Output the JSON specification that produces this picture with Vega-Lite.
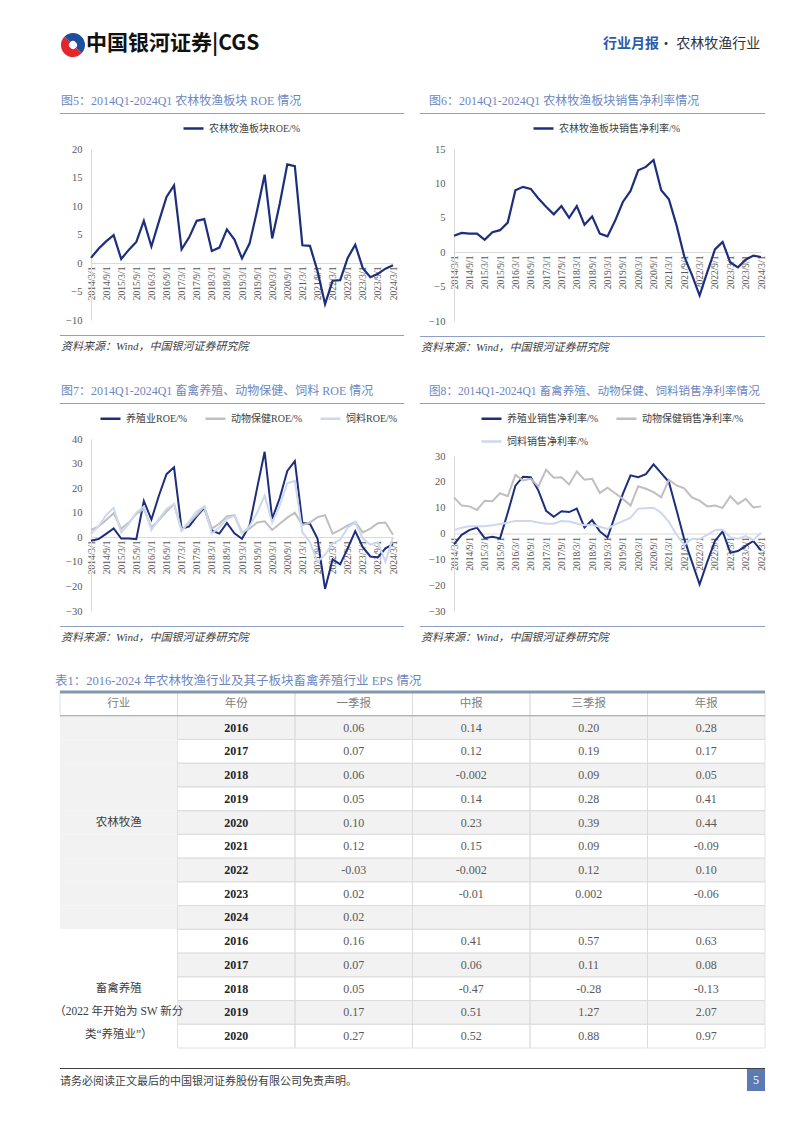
{
"$schema": "https://vega.github.io/schema/vega-lite/v6.json",
"background": "white",
"padding": {"left": 54, "top": 32, "right": 0, "bottom": 0},
"config": {
 "view": {"stroke": null},
 "font": "Liberation Serif, Noto Sans CJK SC, serif",
 "axis": {"domainColor": "#d9d9d9", "ticks": false, "grid": false, "labelColor": "#595959", "labelFont": "Liberation Serif, Noto Sans CJK SC, serif"},
 "legend": {"labelFontSize": 10, "labelColor": "#404040", "symbolType": "stroke", "symbolStrokeWidth": 2.5, "symbolSize": 400, "labelLimit": 400, "labelFont": "Liberation Serif, Noto Sans CJK SC, serif"},
 "title": {"fontWeight": "normal", "font": "Liberation Serif, Noto Sans CJK SC, serif"}
},
"datasets": {
 "q": [
  {"q":"2014/3/1","roe":0.9,"npm":2.4,"ry":-1.4,"ra":3.0,"rf":1.4,"ny":-4.2,"na":14,"nf":1.3},
  {"q":"2014/6/1","roe":2.5,"npm":2.8,"ry":-0.7,"ra":4.4,"rf":4.5,"ny":-0.5,"na":10.8,"nf":2.2},
  {"q":"2014/9/1","roe":3.8,"npm":2.7,"ry":1.4,"ra":7.0,"rf":9,"ny":1.3,"na":10.5,"nf":2.8},
  {"q":"2014/12/1","roe":4.9,"npm":2.7,"ry":3.6,"ra":9.8,"rf":12,"ny":2.3,"na":9.1,"nf":2.8},
  {"q":"2015/3/1","roe":0.7,"npm":1.8,"ry":-0.5,"ra":3.5,"rf":2,"ny":-1.8,"na":12.7,"nf":2.8},
  {"q":"2015/6/1","roe":2.3,"npm":2.9,"ry":-0.5,"ra":6,"rf":5.5,"ny":-1.3,"na":12.5,"nf":3.2},
  {"q":"2015/9/1","roe":3.7,"npm":3.2,"ry":-0.8,"ra":9.5,"rf":10,"ny":-1.9,"na":15.6,"nf":3.7},
  {"q":"2015/12/1","roe":7.4,"npm":4.3,"ry":14.8,"ra":11.5,"rf":12.5,"ny":8,"na":14.4,"nf":4.2},
  {"q":"2016/3/1","roe":2.9,"npm":9.0,"ry":7.2,"ra":4,"rf":3,"ny":18.5,"na":22.7,"nf":4.8},
  {"q":"2016/6/1","roe":7.3,"npm":9.5,"ry":17,"ra":7,"rf":7.5,"ny":22,"na":20.5,"nf":4.8},
  {"q":"2016/9/1","roe":11.6,"npm":9.2,"ry":25.7,"ra":10.5,"rf":11.5,"ny":21.8,"na":21.2,"nf":4.8},
  {"q":"2016/12/1","roe":13.6,"npm":7.8,"ry":28.5,"ra":13.5,"rf":13.5,"ny":16.6,"na":18.2,"nf":4.3},
  {"q":"2017/3/1","roe":2.4,"npm":6.6,"ry":3.5,"ra":3,"rf":2.5,"ny":8.8,"na":24.7,"nf":3.8},
  {"q":"2017/6/1","roe":4.5,"npm":5.5,"ry":4.4,"ra":6,"rf":6.5,"ny":6.5,"na":21.6,"nf":3.8},
  {"q":"2017/9/1","roe":7.4,"npm":6.7,"ry":8.5,"ra":9,"rf":10.5,"ny":8.6,"na":21.8,"nf":4.8},
  {"q":"2017/12/1","roe":7.7,"npm":5.0,"ry":12,"ra":12.5,"rf":12.5,"ny":8.3,"na":19,"nf":4.6},
  {"q":"2018/3/1","roe":2.1,"npm":6.7,"ry":2.8,"ra":3.5,"rf":1.5,"ny":9.6,"na":24,"nf":3.9},
  {"q":"2018/6/1","roe":2.7,"npm":4.0,"ry":1.5,"ra":5.5,"rf":4,"ny":2.3,"na":20.8,"nf":3.2},
  {"q":"2018/9/1","roe":5.9,"npm":5.2,"ry":5.8,"ra":8.5,"rf":7.5,"ny":5.2,"na":21.2,"nf":3.4},
  {"q":"2018/12/1","roe":4.1,"npm":2.7,"ry":1.6,"ra":9,"rf":8.8,"ny":0.8,"na":15.7,"nf":2.6},
  {"q":"2019/3/1","roe":0.8,"npm":2.3,"ry":-0.6,"ra":2,"rf":1.5,"ny":-1.6,"na":17.7,"nf":1.8},
  {"q":"2019/6/1","roe":3.4,"npm":4.6,"ry":4.8,"ra":3.5,"rf":4.5,"ny":7,"na":15.6,"nf":3.5},
  {"q":"2019/9/1","roe":9.2,"npm":7.3,"ry":20,"ra":6,"rf":10,"ny":15.3,"na":13.4,"nf":4.8},
  {"q":"2019/12/1","roe":15.5,"npm":8.9,"ry":34.8,"ra":6.5,"rf":17,"ny":22.5,"na":10.8,"nf":6},
  {"q":"2020/3/1","roe":4.3,"npm":11.9,"ry":7.5,"ra":3,"rf":6,"ny":21.8,"na":18.3,"nf":9.6},
  {"q":"2020/6/1","roe":10.4,"npm":12.4,"ry":16,"ra":5.5,"rf":13,"ny":23,"na":17.3,"nf":9.8},
  {"q":"2020/9/1","roe":17.3,"npm":13.4,"ry":27,"ra":8,"rf":22,"ny":26.8,"na":16,"nf":10},
  {"q":"2020/12/1","roe":17.0,"npm":9.0,"ry":31,"ra":10,"rf":23,"ny":23.4,"na":14,"nf":8},
  {"q":"2021/3/1","roe":3.1,"npm":7.7,"ry":5.8,"ra":5,"rf":2,"ny":19.9,"na":20.8,"nf":4.5},
  {"q":"2021/6/1","roe":3.0,"npm":3.9,"ry":5.5,"ra":6,"rf":-2,"ny":9,"na":18.6,"nf":-0.5},
  {"q":"2021/9/1","roe":-1.4,"npm":-0.6,"ry":-0.5,"ra":8.2,"rf":-10,"ny":-2.2,"na":17.5,"nf":-4.5},
  {"q":"2021/12/1","roe":-7.2,"npm":-3.3,"ry":-21,"ra":9,"rf":-7,"ny":-11,"na":14,"nf":-2},
  {"q":"2022/3/1","roe":-3.1,"npm":-6.3,"ry":-9,"ra":1.5,"rf":-2.5,"ny":-19.7,"na":12.7,"nf":-2.2},
  {"q":"2022/6/1","roe":-3.0,"npm":-2.9,"ry":-11,"ra":3,"rf":-1,"ny":-11,"na":10.5,"nf":-0.5},
  {"q":"2022/9/1","roe":0.9,"npm":0.4,"ry":-4.5,"ra":4.8,"rf":4,"ny":-2.9,"na":10.8,"nf":1.3},
  {"q":"2022/12/1","roe":3.2,"npm":1.5,"ry":2.5,"ra":6.2,"rf":6,"ny":0.8,"na":9.9,"nf":1.5},
  {"q":"2023/3/1","roe":-0.9,"npm":-1.5,"ry":-4,"ra":2,"rf":-0.5,"ny":-7.4,"na":14.4,"nf":-1.5},
  {"q":"2023/6/1","roe":-2.5,"npm":-2.2,"ry":-7.8,"ra":3.5,"rf":-3,"ny":-6.8,"na":11.4,"nf":-2},
  {"q":"2023/9/1","roe":-1.9,"npm":-1.1,"ry":-8.2,"ra":5.7,"rf":-2,"ny":-4.8,"na":13.4,"nf":-1},
  {"q":"2023/12/1","roe":-1.0,"npm":-0.5,"ry":-4.5,"ra":6,"rf":-10,"ny":-2.9,"na":10.1,"nf":-2.5},
  {"q":"2024/3/1","roe":-0.4,"npm":-0.7,"ry":-2.8,"ra":1,"rf":0,"ny":-6.5,"na":10.5,"nf":0.3}
 ],
 "tbl": [
  {"r":0,"行业":"行业","年份":"年份","一季报":"一季报","中报":"中报","三季报":"三季报","年报":"年报"},
  {"r":1,"年份":"2016","一季报":"0.06","中报":"0.14","三季报":"0.20","年报":"0.28"},
  {"r":2,"年份":"2017","一季报":"0.07","中报":"0.12","三季报":"0.19","年报":"0.17"},
  {"r":3,"年份":"2018","一季报":"0.06","中报":"-0.002","三季报":"0.09","年报":"0.05"},
  {"r":4,"年份":"2019","一季报":"0.05","中报":"0.14","三季报":"0.28","年报":"0.41"},
  {"r":5,"行业":"农林牧渔","年份":"2020","一季报":"0.10","中报":"0.23","三季报":"0.39","年报":"0.44"},
  {"r":6,"年份":"2021","一季报":"0.12","中报":"0.15","三季报":"0.09","年报":"-0.09"},
  {"r":7,"年份":"2022","一季报":"-0.03","中报":"-0.002","三季报":"0.12","年报":"0.10"},
  {"r":8,"年份":"2023","一季报":"0.02","中报":"-0.01","三季报":"0.002","年报":"-0.06"},
  {"r":9,"年份":"2024","一季报":"0.02","中报":"","三季报":"","年报":""},
  {"r":10,"年份":"2016","一季报":"0.16","中报":"0.41","三季报":"0.57","年报":"0.63"},
  {"r":11,"年份":"2017","一季报":"0.07","中报":"0.06","三季报":"0.11","年报":"0.08"},
  {"r":12,"行业":"畜禽养殖\n（2022 年开始为 SW 新分\n类“养殖业”）","年份":"2018","一季报":"0.05","中报":"-0.47","三季报":"-0.28","年报":"-0.13"},
  {"r":13,"年份":"2019","一季报":"0.17","中报":"0.51","三季报":"1.27","年报":"2.07"},
  {"r":14,"年份":"2020","一季报":"0.27","中报":"0.52","三季报":"0.88","年报":"0.97"}
 ]
},
"resolve": {"scale": {"color": "independent"}, "legend": {"color": "independent"}},
"concat": [
 {
  "resolve": {"scale": {"color": "independent"}, "legend": {"color": "independent"}},
  "concat": [
   {"width": 26, "height": 26, "data": {"values": [{"p": "b", "v": 1}, {"p": "r", "v": 1}]},
    "mark": {"type": "arc", "innerRadius": 4, "outerRadius": 12},
    "encoding": {"theta": {"field": "v", "type": "quantitative", "stack": true, "scale": {"range": [-0.8, 5.48]}},
     "color": {"field": "p", "type": "nominal", "scale": {"domain": ["b", "r"], "range": ["#1f4e9c", "#e3262b"]}, "legend": null}}},
   {"width": 517, "height": 1, "data": {"values": []}, "mark": "rect",
    "title": {"text": "中国银河证券|CGS", "orient": "bottom", "anchor": "start", "offset": 0, "font": "Noto Sans CJK SC", "fontSize": 21, "fontWeight": "bold", "color": "#111111"}},
   {"width": 54, "height": 1, "data": {"values": []}, "mark": "rect",
    "title": {"text": "行业月报", "orient": "bottom", "anchor": "start", "offset": 4, "font": "Noto Sans CJK SC", "fontSize": 14, "fontWeight": "bold", "color": "#2e5aa8"}},
   {"width": 110, "height": 1, "data": {"values": []}, "mark": "rect",
    "title": {"text": "· 农林牧渔行业", "orient": "bottom", "anchor": "start", "offset": 4, "font": "Noto Sans CJK SC", "fontSize": 14, "color": "#333333"}},
   {"width": 1, "height": 31, "data": {"values": []}, "mark": "rect"}
  ],
  "columns": 5, "spacing": 0, "align": "none"
 },
 {
  "resolve": {"scale": {"color": "independent"}, "legend": {"color": "independent"}},
  "concat": [
   {
    "concat": [
     {"width": 344, "height": 1, "data": {"values": []}, "mark": "rect", "view": {"fill": "#8fa0c6"},
      "title": {"text": "图5：2014Q1-2024Q1 农林牧渔板块 ROE 情况", "anchor": "start", "offset": 5, "dx": 1, "fontSize": 12, "color": "#6d87be"}},
     {"width": 1, "height": 30, "data": {"values": []}, "mark": "rect"},
     {"width": 333, "height": 171, "data": {"name": "q"},
      "transform": [{"fold": ["roe"], "as": ["s", "v"]}],
      "mark": {"type": "line", "strokeWidth": 2.2},
      "encoding": {
       "x": {"field": "q", "type": "ordinal", "sort": null, "title": null, "scale": {"type": "point", "padding": 0, "range": [31, 333]},
        "axis": {"offset": -57, "labelAngle": -90, "labelOverlap": false, "labelPadding": 3, "labelFontSize": 9.5, "labelExpr": "split(datum.value,'/')[1] == '3' || split(datum.value,'/')[1] == '9' ? datum.value : ''"}},
       "y": {"field": "v", "type": "quantitative", "title": null, "scale": {"domain": [-10, 20], "nice": false},
        "axis": {"values": [-10, -5, 0, 5, 10, 15, 20], "offset": -31, "labelPadding": 9, "labelFontSize": 10.5}},
       "color": {"field": "s", "type": "nominal", "scale": {"domain": ["roe"], "range": ["#1d2e7c"]},
        "legend": {"title": null, "orient": "none", "legendX": 122, "legendY": 4, "labelExpr": "'农林牧渔板块ROE/%'"}}
      }},
     {"width": 1, "height": 9, "data": {"values": []}, "mark": "rect"},
     {"width": 344, "height": 1, "data": {"values": []}, "mark": "rect", "view": {"fill": "#8fa0c6"},
      "title": {"text": "资料来源：Wind，中国银河证券研究院", "orient": "bottom", "anchor": "start", "offset": 5, "dx": 1, "fontSize": 11, "fontStyle": "italic", "color": "#404040"}}
    ],
    "columns": 1, "spacing": 0, "align": "none"
   },
   {
    "concat": [
     {"width": 345, "height": 1, "data": {"values": []}, "mark": "rect", "view": {"fill": "#8fa0c6"},
      "title": {"text": "图6：2014Q1-2024Q1 农林牧渔板块销售净利率情况", "anchor": "start", "offset": 5, "dx": 9, "fontSize": 12, "color": "#6d87be"}},
     {"width": 1, "height": 30, "data": {"values": []}, "mark": "rect"},
     {"width": 341, "height": 172, "data": {"name": "q"},
      "transform": [{"fold": ["npm"], "as": ["s", "v"]}],
      "mark": {"type": "line", "strokeWidth": 2.2},
      "encoding": {
       "x": {"field": "q", "type": "ordinal", "sort": null, "title": null, "scale": {"type": "point", "padding": 0, "range": [34, 341]},
        "axis": {"offset": -69, "labelAngle": -90, "labelOverlap": false, "labelPadding": 3, "labelFontSize": 9.5, "labelExpr": "split(datum.value,'/')[1] == '3' || split(datum.value,'/')[1] == '9' ? datum.value : ''"}},
       "y": {"field": "v", "type": "quantitative", "title": null, "scale": {"domain": [-10, 15], "nice": false},
        "axis": {"values": [-10, -5, 0, 5, 10, 15], "offset": -34, "labelPadding": 9, "labelFontSize": 10.5}},
       "color": {"field": "s", "type": "nominal", "scale": {"domain": ["npm"], "range": ["#1d2e7c"]},
        "legend": {"title": null, "orient": "none", "legendX": 112, "legendY": 4, "labelExpr": "'农林牧渔板块销售净利率/%'"}}
      }},
     {"width": 1, "height": 9, "data": {"values": []}, "mark": "rect"},
     {"width": 345, "height": 1, "data": {"values": []}, "mark": "rect", "view": {"fill": "#8fa0c6"},
      "title": {"text": "资料来源：Wind，中国银河证券研究院", "orient": "bottom", "anchor": "start", "offset": 5, "dx": 1, "fontSize": 11, "fontStyle": "italic", "color": "#404040"}}
    ],
    "columns": 1, "spacing": 0, "align": "none"
   }
  ],
  "columns": 2, "spacing": 16, "align": "none"
 },
 {
  "resolve": {"scale": {"color": "independent"}, "legend": {"color": "independent"}},
  "concat": [
   {
    "concat": [
     {"width": 344, "height": 1, "data": {"values": []}, "mark": "rect", "view": {"fill": "#8fa0c6"},
      "title": {"text": "图7：2014Q1-2024Q1 畜禽养殖、动物保健、饲料 ROE 情况", "anchor": "start", "offset": 5, "dx": 1, "fontSize": 12, "color": "#6d87be"}},
     {"width": 1, "height": 30, "data": {"values": []}, "mark": "rect"},
     {"width": 333, "height": 172, "data": {"name": "q"},
      "transform": [{"fold": ["ry", "ra", "rf"], "as": ["s", "v"]}],
      "mark": {"type": "line", "strokeWidth": 2},
      "encoding": {
       "x": {"field": "q", "type": "ordinal", "sort": null, "title": null, "scale": {"type": "point", "padding": 0, "range": [31, 333]},
        "axis": {"offset": -74, "labelAngle": -90, "labelOverlap": false, "labelPadding": 3, "labelFontSize": 9.5, "labelExpr": "split(datum.value,'/')[1] == '3' || split(datum.value,'/')[1] == '9' ? datum.value : ''"}},
       "y": {"field": "v", "type": "quantitative", "title": null, "scale": {"domain": [-30, 40], "nice": false},
        "axis": {"values": [-30, -20, -10, 0, 10, 20, 30, 40], "offset": -31, "labelPadding": 9, "labelFontSize": 10.5}},
       "color": {"field": "s", "type": "nominal", "scale": {"domain": ["ry", "ra", "rf"], "range": ["#1d2e7c", "#bfbfbf", "#cdd8ee"]},
        "legend": {"title": null, "orient": "none", "direction": "horizontal", "legendX": 39, "legendY": 4, "columnPadding": 12,
         "labelExpr": "datum.label == 'ry' ? '养殖业ROE/%' : datum.label == 'ra' ? '动物保健ROE/%' : '饲料ROE/%'"}}
      }},
     {"width": 1, "height": 9, "data": {"values": []}, "mark": "rect"},
     {"width": 344, "height": 1, "data": {"values": []}, "mark": "rect", "view": {"fill": "#8fa0c6"},
      "title": {"text": "资料来源：Wind，中国银河证券研究院", "orient": "bottom", "anchor": "start", "offset": 5, "dx": 1, "fontSize": 11, "fontStyle": "italic", "color": "#404040"}}
    ],
    "columns": 1, "spacing": 0, "align": "none"
   },
   {
    "concat": [
     {"width": 345, "height": 1, "data": {"values": []}, "mark": "rect", "view": {"fill": "#8fa0c6"},
      "title": {"text": "图8：2014Q1-2024Q1 畜禽养殖、动物保健、饲料销售净利率情况", "anchor": "start", "offset": 5, "dx": 9, "fontSize": 11.6, "color": "#6d87be"}},
     {"width": 1, "height": 47, "data": {"values": []}, "mark": "rect"},
     {"width": 341, "height": 155, "data": {"name": "q"},
      "transform": [{"fold": ["ny", "na", "nf"], "as": ["s", "v"]}],
      "mark": {"type": "line", "strokeWidth": 2},
      "encoding": {
       "x": {"field": "q", "type": "ordinal", "sort": null, "title": null, "scale": {"type": "point", "padding": 0, "range": [34, 341]},
        "axis": {"offset": -77.5, "labelAngle": -90, "labelOverlap": false, "labelPadding": 3, "labelFontSize": 9.5, "labelExpr": "split(datum.value,'/')[1] == '3' || split(datum.value,'/')[1] == '9' ? datum.value : ''"}},
       "y": {"field": "v", "type": "quantitative", "title": null, "scale": {"domain": [-30, 30], "nice": false},
        "axis": {"values": [-30, -20, -10, 0, 10, 20, 30], "offset": -34, "labelPadding": 9, "labelFontSize": 10.5}},
       "color": {"field": "s", "type": "nominal", "scale": {"domain": ["ny", "na", "nf"], "range": ["#1d2e7c", "#bfbfbf", "#cdd8ee"]},
        "legend": {"title": null, "orient": "none", "direction": "horizontal", "columns": 2, "legendX": 60, "legendY": 4, "columnPadding": 12, "rowPadding": 6,
         "labelExpr": "datum.label == 'ny' ? '养殖业销售净利率/%' : datum.label == 'na' ? '动物保健销售净利率/%' : '饲料销售净利率/%'"}}
      }},
     {"width": 1, "height": 9, "data": {"values": []}, "mark": "rect"},
     {"width": 345, "height": 1, "data": {"values": []}, "mark": "rect", "view": {"fill": "#8fa0c6"},
      "title": {"text": "资料来源：Wind，中国银河证券研究院", "orient": "bottom", "anchor": "start", "offset": 5, "dx": 1, "fontSize": 11, "fontStyle": "italic", "color": "#404040"}}
    ],
    "columns": 1, "spacing": 0, "align": "none"
   }
  ],
  "columns": 2, "spacing": 16, "align": "none"
 },
 {
  "concat": [
   {
    "width": 705, "height": 356,
    "data": {"name": "tbl"},
    "title": {"text": "表1：2016-2024 年农林牧渔行业及其子板块畜禽养殖行业 EPS 情况", "anchor": "start", "offset": 3, "dx": 1, "fontSize": 12.5, "color": "#6d87be"},
    "transform": [{"fold": ["行业", "年份", "一季报", "中报", "三季报", "年报"], "as": ["c", "t"]}],
    "encoding": {
     "x": {"field": "c", "type": "nominal", "sort": ["行业", "年份", "一季报", "中报", "三季报", "年报"], "scale": {"paddingInner": 0, "paddingOuter": 0}, "axis": null},
     "y": {"field": "r", "type": "ordinal", "scale": {"paddingInner": 0, "paddingOuter": 0}, "axis": null}
    },
    "layer": [
     {"mark": {"type": "rect", "strokeWidth": 0},
      "encoding": {"fill": {"condition": [
        {"test": "datum.c == '行业' && datum.r >= 1 && datum.r <= 9", "value": "#f2f2f2"},
        {"test": "datum.c != '行业' && datum.r % 2 == 1", "value": "#f2f2f2"}], "value": "#ffffff"}}},
     {"transform": [{"filter": "datum.c != '行业' || datum.r == 0"}],
      "mark": {"type": "rect", "fillOpacity": 0, "stroke": "#dadada", "strokeWidth": 0.8}},
     {"transform": [{"filter": "datum.r == 0 && datum.c == '行业'"}],
      "mark": {"type": "rule", "color": "#8497b0", "strokeWidth": 3},
      "encoding": {"x": null, "y": {"field": "r", "type": "ordinal", "bandPosition": 0}}},
     {"transform": [{"filter": "datum.r == 1 && datum.c == '行业'"}],
      "mark": {"type": "rule", "color": "#a6a6a6", "strokeWidth": 1},
      "encoding": {"x": null, "y": {"field": "r", "type": "ordinal", "bandPosition": 0}}},
     {"transform": [{"filter": "datum.r == 0"}],
      "mark": {"type": "text", "fontSize": 11.5, "color": "#808080", "font": "Noto Sans CJK SC"},
      "encoding": {"text": {"field": "t"}}},
     {"transform": [{"filter": "datum.r >= 1 && datum.c == '年份'"}],
      "mark": {"type": "text", "fontSize": 12, "fontWeight": "bold", "color": "#262626"},
      "encoding": {"text": {"field": "t"}}},
     {"transform": [{"filter": "datum.r >= 1 && datum.c != '年份' && datum.c != '行业'"}],
      "mark": {"type": "text", "fontSize": 12, "color": "#595959"},
      "encoding": {"text": {"field": "t"}}},
     {"transform": [{"filter": "datum.r >= 1 && datum.c == '行业' && isValid(datum.t)"}],
      "mark": {"type": "text", "fontSize": 11.5, "color": "#404040", "lineBreak": "\n", "lineHeight": 23},
      "encoding": {"text": {"field": "t"}}}
    ]
   },
   {
    "concat": [
     {"width": 705, "height": 1, "data": {"values": []}, "mark": "rect", "view": {"fill": "#404040"}},
     {
      "concat": [
       {"width": 687, "height": 1, "data": {"values": []}, "mark": "rect",
        "title": {"text": "请务必阅读正文最后的中国银河证券股份有限公司免责声明。", "orient": "bottom", "anchor": "start", "offset": 6, "fontSize": 11, "color": "#404040"}},
       {"width": 18, "height": 22, "data": {"values": [{"p": "5"}]}, "view": {"fill": "#5b7bb5"},
        "mark": {"type": "text", "color": "#ffffff", "fontSize": 12},
        "encoding": {"text": {"field": "p"}}}
      ],
      "columns": 2, "spacing": 0, "align": "none"
     }
    ],
    "columns": 1, "spacing": 0, "align": "none"
   }
  ],
  "columns": 1, "spacing": 19, "align": "none"
 }
],
"columns": 1, "spacing": 32, "align": "none"
}
